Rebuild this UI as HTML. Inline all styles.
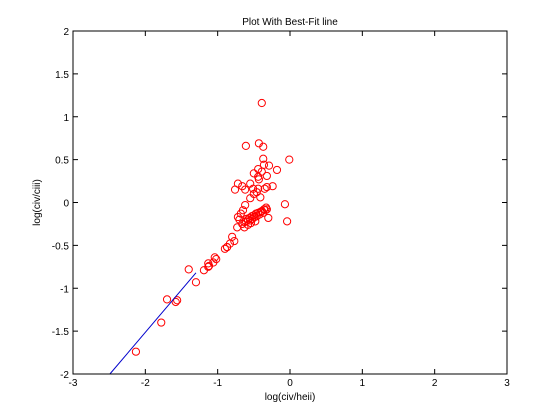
<!DOCTYPE html>
<html><head><meta charset="utf-8"><style>
html,body{margin:0;padding:0;background:#fff;}
svg{display:block;font-family:"Liberation Sans",Arial,sans-serif;}
</style></head><body>
<svg id="chart" width="560" height="420">
<rect x="0" y="0" width="560" height="420" fill="#fff"/>
</svg>
<script>
const xTicks=[-3,-2,-1,0,1,2,3];
const yTicks=[-2,-1.5,-1,-0.5,0,0.5,1,1.5,2];
const yTickLabels=["-2","-1.5","-1","-0.5","0","0.5","1","1.5","2"];
const xVals=[-2.13,-1.78,-1.70,-1.58,-1.56,-1.40,-1.30,-1.19,-1.13,-1.12,-1.06,-1.02,-0.90,-0.87,-0.83,-0.77,
-0.39,-0.61,-0.43,-0.37,-0.37,-0.01,-0.36,-0.29,-0.44,-0.50,-0.18,-0.39,-0.32,-0.44,-0.43,-0.72,-0.66,-0.55,-0.76,-0.62,-0.51,-0.44,-0.32,-0.24,-0.35,-0.46,-0.50,-0.55,-0.41,-0.62,-0.07,-0.65,-0.72,-0.30,-0.04,-0.73,-0.80,-0.87,-1.04,-1.13,
-0.66,-0.63,-0.61,-0.60,-0.58,-0.56,-0.55,-0.53,-0.52,-0.50,-0.49,-0.47,-0.46,-0.44,-0.42,-0.41,-0.39,-0.37,-0.36,-0.34,-0.33,-0.32,-0.58,-0.54,-0.48,-0.63,-0.70,-0.68];
const yVals=[-1.74,-1.40,-1.13,-1.16,-1.14,-0.78,-0.93,-0.79,-0.75,-0.74,-0.70,-0.66,-0.54,-0.52,-0.48,-0.45,
1.16,0.66,0.69,0.65,0.51,0.50,0.44,0.43,0.39,0.34,0.38,0.36,0.31,0.30,0.27,0.22,0.19,0.22,0.15,0.15,0.16,0.16,0.18,0.19,0.16,0.12,0.10,0.05,0.06,-0.03,-0.02,-0.09,-0.17,-0.18,-0.22,-0.29,-0.40,-0.52,-0.64,-0.71,
-0.25,-0.23,-0.22,-0.19,-0.20,-0.18,-0.21,-0.16,-0.19,-0.15,-0.17,-0.13,-0.16,-0.12,-0.14,-0.11,-0.10,-0.12,-0.08,-0.09,-0.06,-0.08,-0.26,-0.24,-0.22,-0.29,-0.20,-0.13];
const fitX=[-2.49,-1.30];
const fitY=[-2.0,-0.82];

const NS="http://www.w3.org/2000/svg";
const svg=document.getElementById('chart');
const L=73,R=507,T=31,B=374;
const sx=v=>L+(v+3)/6*(R-L);
const sy=v=>B-(v+2)/4*(B-T);
function mk(tag,attrs,parent){const e=document.createElementNS(NS,tag);for(const k in attrs)e.setAttribute(k,attrs[k]);(parent||svg).appendChild(e);return e;}

const pts=mk('g',{});


for(let i=0;i<xVals.length;i++){
  const c=mk('circle',{cx:sx(xVals[i]),cy:sy(yVals[i]),r:3.6,fill:'none',stroke:'#ff0000','stroke-width':1},pts);
  
  
}
const fl=mk('line',{x1:sx(fitX[0]),y1:sy(fitY[0]),x2:sx(fitX[1]),y2:sy(fitY[1]),stroke:'#0000cc','stroke-width':1});



const box=mk('rect',{x:L,y:T,width:R-L,height:B-T,fill:'none',stroke:'#000','stroke-width':1});



xTicks.forEach(t=>{
  const x=sx(t);
  mk('line',{x1:x,y1:B,x2:x,y2:B-5,stroke:'#000'});
  mk('line',{x1:x,y1:T,x2:x,y2:T+5,stroke:'#000'});
  const tx=mk('text',{x:x,y:B+12,'font-size':10,'text-anchor':'middle'});
  tx.textContent=String(t);
  
  
});
yTicks.forEach((t,i)=>{
  const y=sy(t);
  mk('line',{x1:L,y1:y,x2:L+5,y2:y,stroke:'#000'});
  mk('line',{x1:R,y1:y,x2:R-5,y2:y,stroke:'#000'});
  const tx=mk('text',{x:L-4,y:y+4,'font-size':10,'text-anchor':'end'});
  tx.textContent=yTickLabels[i];
  
  
});
const title=mk('text',{x:(L+R)/2,y:25,'font-size':10,'text-anchor':'middle'});
title.textContent='Plot With Best-Fit line';


const xl=mk('text',{x:(L+R)/2,y:400,'font-size':10,'text-anchor':'middle'});
xl.textContent='log(civ/heii)';


const yl=mk('text',{x:0,y:0,'font-size':10,'text-anchor':'middle',transform:'translate(40,'+((T+B)/2)+') rotate(-90)'});
yl.textContent='log(civ/ciii)';


</script>
</body></html>
